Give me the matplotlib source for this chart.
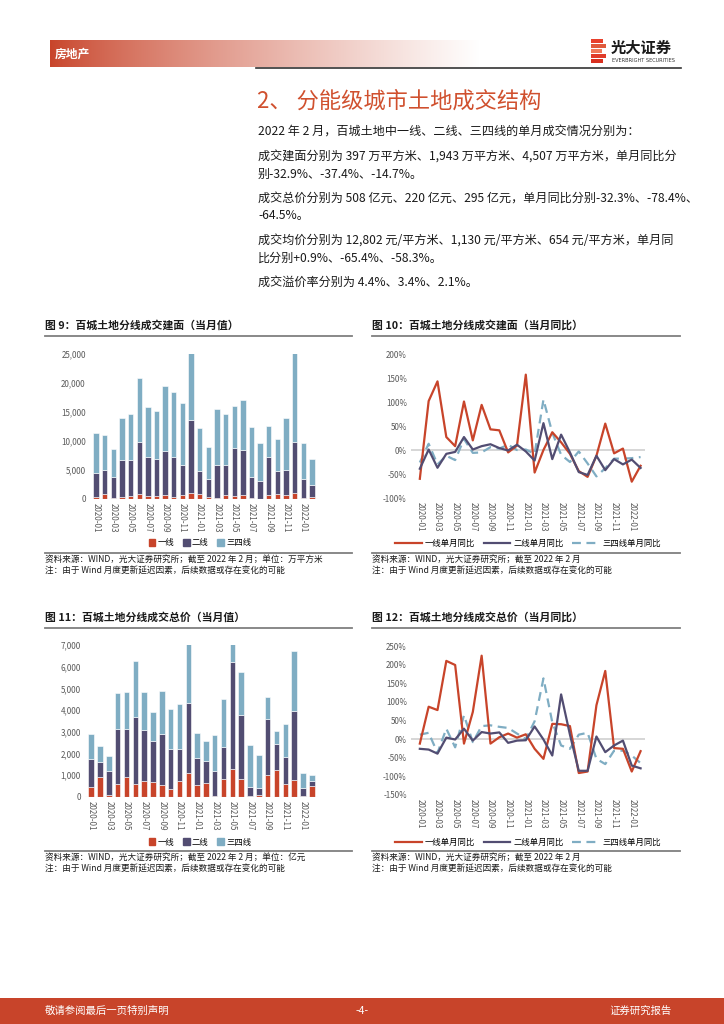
import numpy as np
import matplotlib
matplotlib.use('Agg')
import matplotlib.pyplot as plt
from matplotlib.patches import Rectangle, Patch
from matplotlib.lines import Line2D

plt.rcParams['font.family'] = ['Noto Sans CJK SC', 'DejaVu Sans']
plt.rcParams['axes.unicode_minus'] = False

RED = '#c8442a'
NAVY = '#524d72'
BLUE = '#7fadc3'
GREY = '#595959'

# ---- data ----
months = ['2020-%02d' % m for m in range(1, 13)] + ['2021-%02d' % m for m in range(1, 13)] + ['2022-01', '2022-02']

# 图9 成交建面 (万平方米)
area_t1 = [300, 860, 230, 400, 460, 900, 570, 570, 680, 400, 680, 1000, 860,
           300, 170, 680, 570, 680, 230, 60, 680, 900, 680, 1000, 100, 397]
area_t2 = [4100, 4140, 3570, 6300, 6240, 8900, 6730, 6330, 7620, 6800, 5220, 12600, 4040,
           3100, 5630, 5220, 8230, 7720, 3570, 3040, 6520, 4000, 4320, 8800, 3300, 1943]
area_t34 = [7000, 6000, 4900, 7200, 8000, 11100, 8600, 8200, 11200, 11200, 10700, 11700, 7300,
            5600, 9800, 8800, 7200, 8600, 8600, 6600, 5400, 5500, 9000, 15600, 6200, 4507]

# 图10 成交建面同比 (%)
area_yoy_t1 = [-60, 102, 143, 27, 8, 101, 20, 94, 43, 41, -5, 9, 157,
               -47, 0, 37, 16, -8, -44, -56, -12, 55, -7, 3, -66, -32.9]
area_yoy_t2 = [-39, 1, -37, -8, -4, 27, 1, 8, 12, 4, -1, 11, -3,
               -22, 56, -19, 32, -5, -46, -52, -12, -42, -19, -30, -20, -37.4]
area_yoy_t34 = [-26, 13, -30, -12, -21, 23, -6, -5, 6, 3, 11, 0, 1,
                -8, 105, 36, -10, -25, -3, -28, -55, -38, -18, -18, -17, -14.7]

# 图11 成交总价 (亿元)
price_t1 = [440, 900, 100, 600, 900, 600, 750, 690, 540, 380, 750, 1090, 540,
            660, 30, 830, 1300, 830, 30, 80, 1000, 1230, 600, 800, 30, 508]
price_t2 = [1310, 720, 1110, 2540, 2240, 3080, 2330, 1870, 2340, 1820, 1450, 3230, 1270,
            1020, 1180, 1470, 4930, 2940, 440, 350, 2570, 1200, 1220, 3170, 400, 220]
price_t34 = [1140, 710, 700, 1640, 1680, 2600, 1740, 1340, 1990, 1830, 2100, 2800, 1130,
             890, 1640, 2230, 900, 2000, 1920, 1510, 1050, 630, 1550, 2770, 670, 295]

# 图12 成交总价同比 (%)
price_yoy_t1 = [-12, 87, 78, 210, 199, -12, 73, 224, -12, 5, 15, 4, 13,
                -26, -53, 41, 40, 35, -91, -87, 91, 183, -24, -26, -87, -32.3]
price_yoy_t2 = [-26, -28, -39, 4, -1, 28, -4, 19, 15, 18, -10, -4, -3,
                34, -1, -44, 120, 12, -85, -85, 7, -35, -17, -4, -71, -78.4]
price_yoy_t34 = [12, 17, -37, 28, -22, 64, -8, 35, 37, 33, 30, 15, 0,
                 48, 163, 45, -17, -26, 12, 17, -53, -67, -31, -31, -44, -64.5]

bar_labels = ['一线', '二线', '三四线']
line_labels = ['一线单月同比', '二线单月同比', '三四线单月同比']

W, H = 724, 1024
fig = plt.figure(figsize=(W / 100, H / 100), dpi=100)


def rect(x0, y0, x1, y1):
    return [x0 / W, 1 - y1 / H, (x1 - x0) / W, (y1 - y0) / H]


# page layer in pixel coordinates
page = fig.add_axes([0, 0, 1, 1])
page.set_xlim(0, W)
page.set_ylim(H, 0)
page.axis('off')

# header band with gradient
grad = np.linspace(0, 1, 256) ** 0.8
rgb = np.array([200, 68, 42]) / 255.0
img = np.zeros((1, 256, 3))
for i in range(3):
    img[0, :, i] = rgb[i] + (1 - rgb[i]) * grad
page.imshow(img, extent=[50, 480, 67, 40], aspect='auto', zorder=1)
page.text(55, 54, '房地产', color='white', fontsize=8.5, fontweight='bold', va='center', zorder=2)
page.plot([256, 681], [68, 68], color='#333333', lw=1.2)

# logo
for k, (yy, ww) in enumerate([(39, 12), (44, 15), (49, 11), (54, 15), (59, 12)]):
    page.add_patch(Rectangle((591, yy), ww, 4, color=['#e8402c', '#e05a3c', '#f07a5a', '#e03c2a', '#d8301f'][k], lw=0))
page.text(611, 48, '光大证券', fontsize=11, fontweight='bold', color='#1a1a1a', va='center')
page.text(612, 61, 'EVERBRIGHT SECURITIES', fontsize=3.6, color='#333333', va='center', family='DejaVu Sans')

# section title and body
page.text(257, 101, '2、 分能级城市土地成交结构', fontsize=16, color='#d0502e', va='center')
body = [
    (132, '2022 年 2 月，百城土地中一线、二线、三四线的单月成交情况分别为：'),
    (157, '成交建面分别为 397 万平方米、1,943 万平方米、4,507 万平方米，单月同比分'),
    (174, '别-32.9%、-37.4%、-14.7%。'),
    (199, '成交总价分别为 508 亿元、220 亿元、295 亿元，单月同比分别-32.3%、-78.4%、'),
    (216, '-64.5%。'),
    (241, '成交均价分别为 12,802 元/平方米、1,130 元/平方米、654 元/平方米，单月同'),
    (258, '比分别+0.9%、-65.4%、-58.3%。'),
    (282, '成交溢价率分别为 4.4%、3.4%、2.1%。'),
]
for yy, s in body:
    page.text(258, yy, s, fontsize=8.7, color='#1a1a1a', va='center')

# chart headers and footers
blocks = [
    (45, 352, 325, 553, '图 9：百城土地分线成交建面（当月值）', '资料来源：WIND，光大证券研究所；截至 2022 年 2 月；单位：万平方米'),
    (372, 680, 325, 553, '图 10：百城土地分线成交建面（当月同比）', '资料来源：WIND，光大证券研究所；截至 2022 年 2 月'),
    (45, 352, 617, 851, '图 11：百城土地分线成交总价（当月值）', '资料来源：WIND，光大证券研究所；截至 2022 年 2 月；单位：亿元'),
    (372, 680, 617, 851, '图 12：百城土地分线成交总价（当月同比）', '资料来源：WIND，光大证券研究所；截至 2022 年 2 月'),
]
for x0, x1, ty, sy, title, src in blocks:
    page.text(x0, ty, title, fontsize=7.8, fontweight='bold', color='#1a1a1a', va='center')
    page.plot([x0, x1], [ty + 11, ty + 11], color='#7f7f7f', lw=1.3)
    page.plot([x0, x1], [sy, sy], color='#7f7f7f', lw=1.3)
    page.text(x0, sy + 6, src, fontsize=6.2, color='#1a1a1a', va='center')
    page.text(x0, sy + 17, '注：由于 Wind 月度更新延迟因素，后续数据或存在变化的可能', fontsize=6.2, color='#1a1a1a', va='center')

# footer band
page.add_patch(Rectangle((0, 998), W, 26, color=RED, lw=0))
page.text(45, 1011, '敬请参阅最后一页特别声明', color='white', fontsize=7.5, va='center')
page.text(362, 1011, '-4-', color='white', fontsize=7.5, va='center', ha='center')
page.text(672, 1011, '证券研究报告', color='white', fontsize=7.5, va='center', ha='right')

x = np.arange(len(months))
tick_pos = x[::2]
tick_lab = months[::2]


def style_axes(ax):
    for sp in ax.spines.values():
        sp.set_visible(False)
    ax.tick_params(length=0, labelsize=5.8, colors=GREY, pad=3)
    ax.set_xticks(tick_pos)
    ax.set_xticklabels(tick_lab, rotation=270, fontsize=5.8, color=GREY)


def bar_chart(box, t1, t2, t34, ymax, step, legend_y):
    ax = fig.add_axes(rect(*box))
    t1 = np.array(t1); t2 = np.array(t2); t34 = np.array(t34)
    kw = dict(width=0.62, edgecolor='white', linewidth=0.4)
    ax.bar(x, t1, color=RED, **kw)
    ax.bar(x, t2, bottom=t1, color=NAVY, **kw)
    ax.bar(x, t34, bottom=t1 + t2, color=BLUE, **kw)
    ax.set_xlim(-0.7, 25.7)
    ax.set_ylim(0, ymax)
    ax.set_yticks(np.arange(0, ymax + 1, step))
    ax.set_yticklabels(['{:,}'.format(v) for v in np.arange(0, ymax + 1, step)])
    style_axes(ax)
    ax.axhline(0, color='#d9d9d9', lw=0.8)
    handles = [Patch(color=c) for c in (RED, NAVY, BLUE)]
    ax.legend(handles, bar_labels, loc='center', ncol=3, frameon=False, fontsize=6,
              handlelength=0.8, handleheight=0.8, handletextpad=0.3, columnspacing=1.0,
              bbox_to_anchor=(200 / W, 1 - legend_y / H), bbox_transform=fig.transFigure)
    return ax


def line_chart(box, s1, s2, s34, ylo, yhi, legend_y):
    ax = fig.add_axes(rect(*box))
    ax.axhline(0, color='#d0d0d0', lw=1.2, zorder=1)
    ax.plot(x, s1, color=RED, lw=1.6, zorder=3)
    ax.plot(x, s2, color=NAVY, lw=1.6, zorder=3)
    ax.plot(x, s34, color=BLUE, lw=1.6, ls=(0, (4, 2.5)), zorder=2)
    ax.set_xlim(-1, 25.5)
    ax.set_ylim(ylo, yhi)
    ticks = np.arange(ylo, yhi + 1, 50)
    ax.set_yticks(ticks)
    ax.set_yticklabels(['%d%%' % v for v in ticks])
    style_axes(ax)
    handles = [Line2D([], [], color=RED, lw=1.6), Line2D([], [], color=NAVY, lw=1.6),
               Line2D([], [], color=BLUE, lw=1.6, ls=(0, (4, 2.5)))]
    ax.legend(handles, line_labels, loc='center', ncol=3, frameon=False, fontsize=6,
              handlelength=3.2, handletextpad=0.4, columnspacing=1.0,
              bbox_to_anchor=(528 / W, 1 - legend_y / H), bbox_transform=fig.transFigure)
    return ax


bar_chart((90, 354, 318, 499), area_t1, area_t2, area_t34, 25000, 5000, 543)
line_chart((411, 354, 645, 498), area_yoy_t1, area_yoy_t2, area_yoy_t34, -100, 200, 543)
bar_chart((85, 645, 318, 797), price_t1, price_t2, price_t34, 7000, 1000, 842)
line_chart((411, 646, 645, 795), price_yoy_t1, price_yoy_t2, price_yoy_t34, -150, 250, 842)

fig.savefig('out.png', dpi=100)
